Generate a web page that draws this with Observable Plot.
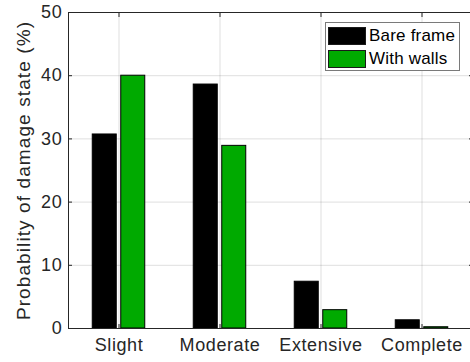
<!DOCTYPE html>
<html>
<head>
<meta charset="utf-8">
<script src="https://cdn.jsdelivr.net/npm/d3@7"></script>
<script src="https://cdn.jsdelivr.net/npm/@observablehq/plot@0.6"></script>
<style>
  html, body { margin: 0; padding: 0; background: #fff; }
  #chart { position: relative; width: 470px; height: 362px; overflow: hidden; }
  #chart g[aria-label="y-axis label"] text { font-size: 19px; letter-spacing: 1.1px; }
  #chart g[aria-label="y-axis tick label"] text { letter-spacing: 0.8px; }
  #chart g[aria-label="x-axis tick label"] text { letter-spacing: 0.6px; }
  .legend {
    position: absolute; left: 325px; top: 22px; width: 135px; height: 49px;
    box-sizing: border-box; border: 1px solid #7a7a7a; background: #fff;
    font-family: "Liberation Sans", Arial, sans-serif; font-size: 17px; color: #000;
    letter-spacing: 0.2px;
  }
  .legend .row { position: absolute; left: 2px; height: 19px; display: flex; align-items: center; }
  .legend .sw { width: 38px; height: 18px; box-sizing: border-box; border: 1px solid #1a1a1a; margin-right: 3px; }
</style>
</head>
<body>
<div id="chart"></div>
<script>
// Damage-state probabilities (%) for the two building configurations
const categories = ["Slight", "Moderate", "Extensive", "Complete"];
const seriesNames = ["Bare frame", "With walls"];
const bareFrame = [30.7, 38.6, 7.4, 1.3];
const withWalls = [40.0, 28.9, 2.9, 0.2];
const yTicks = [0, 10, 20, 30, 40, 50];
const seriesColors = ["#000000", "#00aa00"];

const rows = categories.flatMap((c, i) => [
  {category: c, series: seriesNames[0], value: bareFrame[i]},
  {category: c, series: seriesNames[1], value: withWalls[i]}
]);

const W = 470, H = 362;
const mLeft = 68, mRight = -2, mTop = 12, mBottom = 34;
const band = (W - mLeft - mRight) / categories.length;
const barW = 24, halfGap = 14.25;
// horizontal insets that place each series' bar beside the category centre
const insetsFor = (k) => {
  const center = band / 2 + (k === 0 ? -halfGap : halfGap);
  return {insetLeft: center - barW / 2, insetRight: band - center - barW / 2};
};

const ink = "#262626";
const font = "'Liberation Sans', Arial, sans-serif";

const plot = Plot.plot({
  width: W, height: H,
  marginLeft: mLeft, marginRight: mRight, marginTop: mTop, marginBottom: mBottom,
  style: {fontFamily: font, color: ink, background: "transparent"},
  x: {domain: categories, padding: 0},
  y: {domain: [0, 50]},
  marks: [
    Plot.gridX({stroke: ink, strokeOpacity: 0.15}),
    Plot.gridY(yTicks, {stroke: ink, strokeOpacity: 0.15}),
    ...seriesNames.map((s, k) =>
      Plot.barY(rows.filter(d => d.series === s), {
        x: "category", y: "value",
        fill: seriesColors[k], stroke: "#000", strokeWidth: 1,
        ...insetsFor(k)
      })
    ),
    Plot.frame({stroke: ink, strokeWidth: 1}),
    Plot.axisX({anchor: "bottom", tickSize: -4, tickPadding: 14, fontSize: 18, label: null}),
    Plot.axisX({anchor: "top", tickSize: -4, tickFormat: () => "", label: null}),
    Plot.axisY(yTicks, {anchor: "left", tickSize: -4, tickPadding: 10, fontSize: 18,
      label: "Probability of damage state (%)", labelAnchor: "center", labelArrow: "none", labelOffset: 52}),
    Plot.axisY(yTicks, {anchor: "right", tickSize: -4, tickFormat: () => "", label: null})
  ]
});

const chart = document.getElementById("chart");
chart.appendChild(plot);

// legend box placed inside the upper-right corner of the axes
const legend = document.createElement("div");
legend.className = "legend";
seriesNames.forEach((s, k) => {
  const row = document.createElement("div");
  row.className = "row";
  row.style.top = (3 + k * 23.5) + "px";
  const sw = document.createElement("span");
  sw.className = "sw";
  sw.style.background = seriesColors[k];
  const label = document.createElement("span");
  label.textContent = s;
  row.appendChild(sw);
  row.appendChild(label);
  legend.appendChild(row);
});
chart.appendChild(legend);
</script>
</body>
</html>
